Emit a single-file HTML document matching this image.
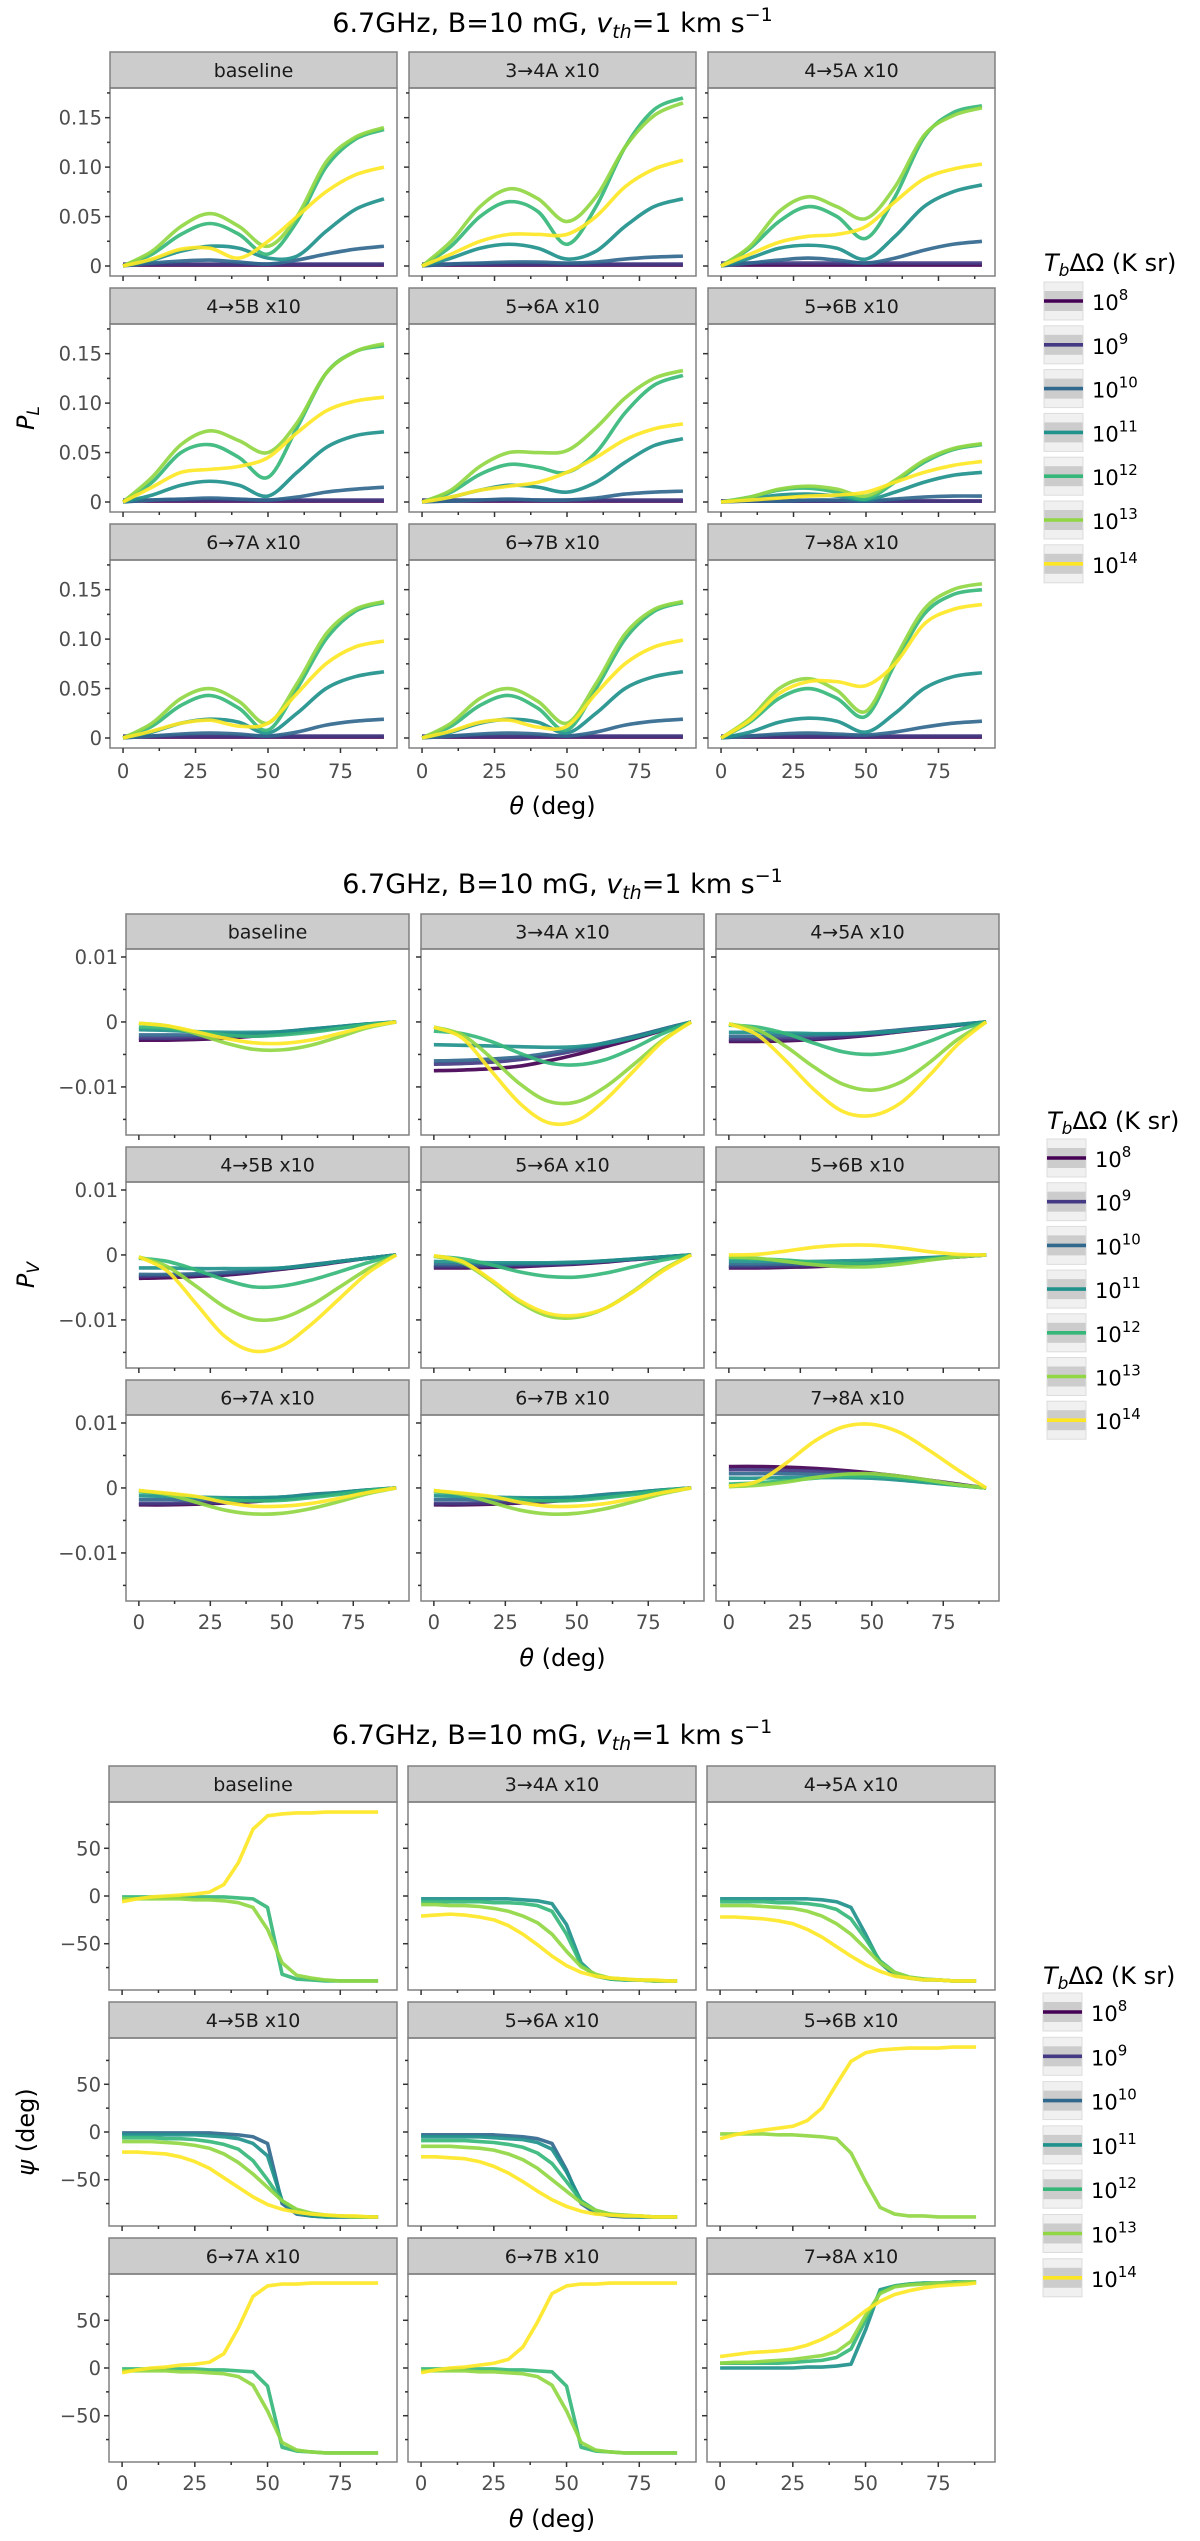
<!DOCTYPE html>
<html><head><meta charset="utf-8">
<style>
html,body{margin:0;padding:0;background:#fff;}
svg{display:block;font-family:"DejaVu Sans","Liberation Sans",sans-serif;}
</style></head>
<body>
<svg id="chart" width="1200" height="2541" viewBox="0 0 1200 2541" xmlns="http://www.w3.org/2000/svg"></svg>
<script>
const colors = ['#440154','#443983','#31688e','#21918c','#35b779','#90d743','#fde725'];
const legendExponents = ['8','9','10','11','12','13','14'];
const panelNames = ['baseline','3→4A x10','4→5A x10','4→5B x10','5→6A x10','5→6B x10','6→7A x10','6→7B x10','7→8A x10'];
const thetaPL = [0,10,20,30,40,50,60,70,80,90];
const thetaPV = [0,10,20,30,40,50,60,70,80,90];
const thetaPsi = [0,5,10,15,20,25,30,35,40,45,50,55,60,65,70,75,80,85,88];

/* ---- P_L data (series 1e8..1e14) ---- */
const plBaseline = [
[0.001,0.001,0.001,0.001,0.001,0.001,0.001,0.001,0.001,0.001],
[0.002,0.002,0.002,0.002,0.002,0.002,0.002,0.002,0.002,0.002],
[0,0.003,0.005,0.006,0.004,0.002,0.006,0.012,0.017,0.020],
[0,0.006,0.015,0.020,0.018,0.008,0.010,0.035,0.057,0.068],
[0,0.012,0.032,0.043,0.032,0.012,0.045,0.100,0.128,0.138],
[0,0.015,0.040,0.053,0.040,0.020,0.050,0.105,0.130,0.140],
[0,0.007,0.017,0.018,0.008,0.025,0.050,0.075,0.092,0.100]];
const pl34A = [
[0.001,0.001,0.001,0.001,0.001,0.001,0.001,0.001,0.001,0.001],
[0.002,0.002,0.002,0.002,0.002,0.002,0.002,0.002,0.002,0.002],
[0,0.002,0.003,0.004,0.004,0.003,0.004,0.007,0.009,0.010],
[0,0.008,0.018,0.022,0.018,0.007,0.015,0.040,0.060,0.068],
[0,0.020,0.050,0.065,0.055,0.022,0.060,0.120,0.158,0.170],
[0,0.025,0.060,0.078,0.068,0.045,0.070,0.120,0.152,0.165],
[0,0.012,0.025,0.032,0.032,0.032,0.050,0.080,0.098,0.107]];
const pl45A = [
[0.001,0.001,0.001,0.001,0.001,0.001,0.001,0.001,0.001,0.001],
[0.003,0.003,0.003,0.003,0.003,0.003,0.003,0.003,0.003,0.003],
[0,0.003,0.006,0.008,0.006,0.003,0.008,0.016,0.022,0.025],
[0,0.008,0.018,0.021,0.018,0.007,0.030,0.060,0.075,0.082],
[0,0.018,0.045,0.060,0.050,0.028,0.070,0.130,0.155,0.162],
[0,0.020,0.055,0.070,0.060,0.048,0.080,0.132,0.152,0.160],
[0,0.012,0.024,0.030,0.032,0.040,0.065,0.088,0.098,0.103]];
const pl45B = [
[0.001,0.001,0.001,0.001,0.001,0.001,0.001,0.001,0.001,0.001],
[0.002,0.002,0.002,0.002,0.002,0.002,0.002,0.002,0.002,0.002],
[0,0.002,0.003,0.004,0.003,0.002,0.005,0.010,0.013,0.015],
[0,0.007,0.017,0.021,0.017,0.006,0.030,0.055,0.067,0.071],
[0,0.020,0.050,0.058,0.045,0.025,0.075,0.130,0.152,0.158],
[0,0.025,0.058,0.072,0.062,0.050,0.080,0.130,0.152,0.160],
[0,0.015,0.030,0.033,0.036,0.045,0.070,0.092,0.102,0.106]];
const pl56A = [
[0.001,0.001,0.001,0.001,0.001,0.001,0.001,0.001,0.001,0.001],
[0.002,0.002,0.002,0.002,0.002,0.002,0.002,0.002,0.002,0.002],
[0,0.001,0.002,0.003,0.002,0.002,0.004,0.008,0.010,0.011],
[0,0.005,0.012,0.017,0.015,0.010,0.020,0.040,0.057,0.064],
[0,0.010,0.028,0.038,0.035,0.030,0.050,0.090,0.118,0.128],
[0,0.012,0.036,0.050,0.050,0.052,0.075,0.105,0.125,0.133],
[0,0.005,0.012,0.016,0.020,0.030,0.045,0.063,0.074,0.079]];
const pl56B = [
[0.001,0.001,0.001,0.001,0.001,0.001,0.001,0.001,0.001,0.001],
[0.001,0.001,0.001,0.001,0.001,0.001,0.001,0.001,0.001,0.001],
[0,0.001,0.001,0.002,0.002,0.001,0.003,0.005,0.006,0.006],
[0,0.003,0.007,0.008,0.006,0.002,0.010,0.020,0.027,0.030],
[0,0.005,0.012,0.014,0.010,0.003,0.020,0.040,0.053,0.058],
[0,0.005,0.013,0.016,0.013,0.006,0.022,0.042,0.054,0.059],
[0,0.002,0.004,0.006,0.007,0.010,0.020,0.030,0.037,0.041]];
const pl67A = [
[0.001,0.001,0.001,0.001,0.001,0.001,0.001,0.001,0.001,0.001],
[0.002,0.002,0.002,0.002,0.002,0.002,0.002,0.002,0.002,0.002],
[0,0.002,0.004,0.005,0.004,0.002,0.006,0.013,0.017,0.019],
[0,0.006,0.015,0.019,0.016,0.005,0.025,0.050,0.062,0.067],
[0,0.012,0.033,0.043,0.030,0.008,0.050,0.100,0.128,0.137],
[0,0.015,0.040,0.050,0.037,0.015,0.055,0.105,0.130,0.138],
[0,0.007,0.015,0.018,0.012,0.015,0.045,0.075,0.092,0.098]];
const pl67B = [
[0.001,0.001,0.001,0.001,0.001,0.001,0.001,0.001,0.001,0.001],
[0.002,0.002,0.002,0.002,0.002,0.002,0.002,0.002,0.002,0.002],
[0,0.002,0.004,0.005,0.004,0.002,0.006,0.013,0.017,0.019],
[0,0.006,0.015,0.019,0.016,0.005,0.025,0.050,0.062,0.067],
[0,0.012,0.033,0.043,0.030,0.008,0.050,0.100,0.128,0.137],
[0,0.015,0.040,0.050,0.037,0.015,0.055,0.105,0.130,0.138],
[0,0.007,0.016,0.018,0.011,0.012,0.045,0.075,0.092,0.099]];
const pl78A = [
[0.001,0.001,0.001,0.001,0.001,0.001,0.001,0.001,0.001,0.001],
[0.002,0.002,0.002,0.002,0.002,0.002,0.002,0.002,0.002,0.002],
[0,0.002,0.004,0.005,0.004,0.003,0.006,0.011,0.015,0.017],
[0,0.006,0.016,0.020,0.017,0.006,0.025,0.050,0.062,0.066],
[0,0.016,0.040,0.050,0.040,0.022,0.075,0.125,0.145,0.150],
[0,0.020,0.050,0.060,0.048,0.027,0.080,0.130,0.150,0.156],
[0,0.018,0.045,0.057,0.057,0.053,0.075,0.115,0.130,0.135]];

/* ---- P_V data, in units of 1e-3 ---- */
const pvScale = 0.001;
const pvBaseline = [
[-2.8,-2.8,-2.7,-2.5,-2.2,-1.8,-1.3,-0.9,-0.4,0],
[-2.5,-2.5,-2.4,-2.3,-2.0,-1.7,-1.2,-0.8,-0.4,0],
[-2.0,-2.0,-2.0,-1.9,-1.8,-1.5,-1.1,-0.7,-0.3,0],
[-1.2,-1.3,-1.5,-1.6,-1.6,-1.5,-1.1,-0.7,-0.3,0],
[-0.8,-1.0,-1.5,-2.0,-2.2,-2.0,-1.6,-1.0,-0.4,0],
[-0.2,-0.6,-1.8,-3.2,-4.2,-4.3,-3.6,-2.3,-0.9,0],
[-0.2,-0.6,-1.5,-2.5,-3.2,-3.3,-2.8,-1.8,-0.7,0]];
const pv34A = [
[-7.5,-7.4,-7.2,-6.8,-6.0,-5.0,-3.8,-2.6,-1.3,0],
[-6.5,-6.4,-6.2,-5.8,-5.2,-4.4,-3.4,-2.3,-1.1,0],
[-6.0,-5.9,-5.7,-5.4,-4.8,-4.1,-3.2,-2.2,-1.1,0],
[-3.5,-3.6,-3.7,-3.8,-3.9,-3.8,-3.3,-2.4,-1.2,0],
[-1.4,-1.8,-3.0,-4.8,-6.3,-6.6,-5.8,-4.0,-1.8,0],
[-0.8,-2.0,-5.5,-9.5,-12.2,-12.3,-10.0,-6.5,-2.8,0],
[-0.8,-2.5,-7.5,-12.5,-15.5,-15.2,-12.0,-7.5,-3.0,0]];
const pv45A = [
[-3.0,-3.0,-2.9,-2.7,-2.4,-2.0,-1.5,-1.0,-0.5,0],
[-2.7,-2.7,-2.6,-2.5,-2.2,-1.9,-1.4,-0.9,-0.5,0],
[-2.2,-2.2,-2.1,-2.0,-1.9,-1.6,-1.2,-0.8,-0.4,0],
[-1.6,-1.6,-1.7,-1.8,-1.8,-1.7,-1.4,-0.9,-0.4,0],
[-0.5,-0.8,-1.8,-3.3,-4.6,-5.0,-4.4,-3.0,-1.3,0],
[-0.3,-1.2,-3.8,-7.0,-9.6,-10.5,-9.3,-6.3,-2.7,0],
[-0.3,-2.0,-6.0,-10.5,-13.8,-14.4,-12.5,-8.3,-3.5,0]];
const pv45B = [
[-3.6,-3.5,-3.3,-3.1,-2.7,-2.2,-1.7,-1.1,-0.5,0],
[-3.3,-3.2,-3.1,-2.9,-2.6,-2.1,-1.6,-1.0,-0.5,0],
[-3.0,-3.0,-2.9,-2.7,-2.4,-2.0,-1.5,-1.0,-0.5,0],
[-2.0,-2.0,-2.1,-2.1,-2.1,-2.0,-1.6,-1.0,-0.5,0],
[-0.5,-1.0,-2.3,-3.8,-4.9,-4.8,-3.9,-2.6,-1.2,0],
[-0.3,-1.8,-4.8,-8.0,-9.9,-9.7,-7.8,-5.0,-2.2,0],
[-0.3,-2.5,-7.5,-12.5,-14.8,-14.0,-10.8,-6.8,-2.8,0]];
const pv56A = [
[-2.0,-2.0,-1.9,-1.8,-1.6,-1.4,-1.1,-0.7,-0.4,0],
[-1.8,-1.8,-1.7,-1.6,-1.5,-1.3,-1.0,-0.7,-0.3,0],
[-1.5,-1.5,-1.5,-1.4,-1.3,-1.2,-0.9,-0.6,-0.3,0],
[-1.0,-1.1,-1.2,-1.2,-1.2,-1.1,-0.9,-0.6,-0.3,0],
[-0.2,-0.6,-1.5,-2.6,-3.3,-3.4,-2.8,-1.8,-0.8,0],
[-0.2,-1.2,-4.0,-7.3,-9.4,-9.6,-8.2,-5.5,-2.3,0],
[-0.1,-1.0,-3.8,-7.0,-9.0,-9.3,-8.2,-5.6,-2.5,0]];
const pv56B = [
[-2.0,-2.0,-1.9,-1.8,-1.6,-1.3,-1.0,-0.6,-0.3,0],
[-1.8,-1.8,-1.7,-1.6,-1.4,-1.2,-0.9,-0.6,-0.3,0],
[-1.5,-1.5,-1.4,-1.4,-1.3,-1.1,-0.8,-0.5,-0.2,0],
[-1.0,-1.0,-1.0,-1.0,-0.9,-0.8,-0.6,-0.4,-0.2,0],
[-0.5,-0.6,-0.8,-1.1,-1.3,-1.3,-1.0,-0.6,-0.2,0],
[-0.3,-0.5,-1.0,-1.5,-1.8,-1.8,-1.4,-0.8,-0.3,0],
[0,0.1,0.6,1.2,1.5,1.5,1.1,0.5,0.1,0]];
const pv67A = [
[-2.6,-2.6,-2.5,-2.3,-2.1,-1.7,-1.3,-0.8,-0.4,0],
[-2.4,-2.4,-2.3,-2.2,-1.9,-1.6,-1.2,-0.8,-0.4,0],
[-1.8,-1.8,-1.8,-1.7,-1.6,-1.4,-1.0,-0.7,-0.3,0],
[-1.2,-1.3,-1.4,-1.5,-1.5,-1.4,-1.1,-0.7,-0.3,0],
[-0.6,-0.9,-1.4,-1.8,-2.0,-1.9,-1.5,-1.0,-0.4,0],
[-0.4,-1.0,-2.2,-3.4,-4.0,-3.9,-3.2,-2.1,-0.9,0],
[-0.4,-0.8,-1.3,-2.2,-2.8,-2.8,-2.4,-1.6,-0.7,0]];
const pv67B = [
[-2.6,-2.6,-2.5,-2.3,-2.1,-1.7,-1.3,-0.8,-0.4,0],
[-2.4,-2.4,-2.3,-2.2,-1.9,-1.6,-1.2,-0.8,-0.4,0],
[-1.8,-1.8,-1.8,-1.7,-1.6,-1.4,-1.0,-0.7,-0.3,0],
[-1.2,-1.3,-1.4,-1.5,-1.5,-1.4,-1.1,-0.7,-0.3,0],
[-0.6,-0.9,-1.4,-1.8,-2.0,-1.9,-1.5,-1.0,-0.4,0],
[-0.4,-1.0,-2.2,-3.4,-4.0,-3.9,-3.2,-2.1,-0.9,0],
[-0.4,-0.8,-1.3,-2.2,-2.8,-2.8,-2.4,-1.6,-0.7,0]];
const pv78A = [
[3.3,3.3,3.2,3.0,2.7,2.3,1.8,1.2,0.6,0],
[2.8,2.8,2.7,2.6,2.4,2.0,1.6,1.1,0.5,0],
[2.2,2.2,2.2,2.1,2.0,1.8,1.4,1.0,0.5,0],
[1.5,1.5,1.6,1.6,1.6,1.5,1.2,0.8,0.4,0],
[0.6,0.8,1.1,1.5,1.8,1.8,1.5,1.0,0.4,0],
[0.2,0.4,0.9,1.6,2.1,2.2,1.8,1.2,0.5,0],
[0.3,1.0,3.8,7.2,9.4,9.8,8.5,5.8,2.8,0]];

/* ---- psi data (deg); null = series not shown ---- */
const psiBaseline = [null,null,null,null,
[-1,-1,-1,-1,-1,-1,-1,-1,-2,-3,-12,-82,-87,-88,-89,-89,-89,-89,-89],
[-3,-3,-3,-3,-3,-4,-4,-5,-7,-12,-35,-70,-83,-86,-88,-89,-89,-89,-89],
[-6,-3,-1,0,1,2,4,12,35,70,84,86,87,87,88,88,88,88,88]];
const psi34A = [null,null,null,
[-3,-3,-3,-3,-3,-3,-3,-4,-5,-8,-30,-70,-84,-87,-88,-88,-89,-89,-89],
[-6,-6,-6,-6,-6,-7,-7,-8,-10,-16,-40,-72,-84,-87,-88,-88,-89,-89,-89],
[-9,-9,-10,-10,-11,-13,-16,-21,-28,-40,-58,-74,-82,-86,-87,-88,-89,-89,-89],
[-21,-20,-19,-20,-22,-25,-31,-40,-51,-63,-73,-80,-84,-86,-87,-88,-88,-89,-89]];
const psi45A = [null,null,null,
[-3,-3,-3,-3,-3,-3,-3,-4,-6,-12,-40,-70,-83,-86,-88,-88,-89,-89,-89],
[-6,-6,-6,-6,-7,-7,-8,-10,-14,-24,-45,-68,-80,-85,-87,-88,-89,-89,-89],
[-10,-10,-10,-11,-12,-13,-16,-21,-29,-40,-55,-70,-80,-85,-87,-88,-89,-89,-89],
[-22,-22,-23,-24,-26,-29,-35,-43,-53,-63,-72,-79,-84,-86,-88,-88,-89,-89,-89]];
const psi45B = [null,null,
[-1,-1,-1,-1,-1,-1,-1,-2,-3,-5,-12,-75,-86,-88,-89,-89,-89,-89,-89],
[-3,-3,-3,-3,-3,-3,-4,-5,-7,-12,-25,-72,-85,-88,-89,-89,-89,-89,-89],
[-6,-6,-6,-7,-7,-8,-10,-13,-18,-30,-50,-72,-82,-86,-88,-88,-89,-89,-89],
[-10,-10,-10,-11,-12,-14,-17,-23,-32,-44,-58,-72,-81,-85,-87,-88,-89,-89,-89],
[-21,-21,-22,-23,-26,-31,-38,-48,-58,-68,-76,-81,-84,-86,-87,-88,-88,-89,-89]];
const psi56A = [null,null,
[-3,-3,-3,-3,-3,-3,-4,-5,-7,-12,-40,-75,-85,-88,-89,-89,-89,-89,-89],
[-5,-5,-5,-5,-5,-6,-7,-8,-11,-18,-42,-72,-84,-87,-88,-89,-89,-89,-89],
[-9,-9,-9,-9,-10,-11,-13,-16,-22,-33,-52,-72,-82,-86,-88,-88,-89,-89,-89],
[-15,-15,-15,-16,-17,-19,-23,-29,-38,-50,-62,-74,-82,-86,-87,-88,-89,-89,-89],
[-26,-26,-27,-28,-31,-36,-43,-52,-62,-71,-78,-83,-86,-87,-88,-88,-89,-89,-89]];
const psi56B = [null,null,null,null,null,
[-2,-2,-2,-2,-3,-3,-4,-5,-7,-22,-52,-79,-86,-88,-88,-89,-89,-89,-89],
[-7,-3,0,2,4,6,12,25,50,74,83,86,87,88,88,88,89,89,89]];
const psi67A = [null,null,null,null,
[-1,-1,-1,-1,-1,-1,-2,-2,-3,-4,-19,-83,-87,-88,-89,-89,-89,-89,-89],
[-3,-3,-3,-3,-4,-4,-5,-6,-9,-18,-45,-78,-86,-88,-89,-89,-89,-89,-89],
[-5,-2,0,1,3,4,6,15,42,75,86,88,88,89,89,89,89,89,89]];
const psi67B = [null,null,null,null,
[-1,-1,-1,-1,-1,-1,-2,-2,-3,-4,-19,-83,-87,-88,-89,-89,-89,-89,-89],
[-3,-3,-3,-3,-4,-4,-5,-6,-9,-18,-45,-78,-86,-88,-89,-89,-89,-89,-89],
[-5,-2,0,1,3,5,9,22,48,78,86,88,88,89,89,89,89,89,89]];
const psi78A = [null,null,null,
[0,0,0,0,0,0,1,1,2,4,40,82,86,88,89,89,90,90,90],
[5,5,5,5,5,6,7,8,11,20,50,80,86,88,89,89,90,90,90],
[5,6,6,7,8,9,11,13,17,28,55,78,85,87,88,89,89,90,90],
[12,14,16,17,18,20,24,30,38,48,60,70,77,81,84,86,87,88,89]];

const plTicks = [0,0.05,0.10,0.15];
const plTickLabels = ['0','0.05','0.10','0.15'];
const pvTicks = [-0.01,0,0.01];
const pvTickLabels = ['\u22120.01','0','0.01'];
const psiTicks = [-50,0,50];
const psiTickLabels = ['\u221250','0','50'];
const xTicks = [0,25,50,75];
const xTickLabels = ['0','25','50','75'];

const NS = 'http://www.w3.org/2000/svg';
const svg = document.getElementById('chart');
function mk(tag, attrs, parent, txt){
  const e = document.createElementNS(NS, tag);
  for (const k in attrs) e.setAttribute(k, attrs[k]);
  if (txt !== undefined) e.textContent = txt;
  (parent || svg).appendChild(e);
  return e;
}
function smoothPath(pts){
  let d = 'M' + pts[0][0].toFixed(2) + ',' + pts[0][1].toFixed(2);
  for (let i = 0; i < pts.length - 1; i++){
    const p0 = pts[Math.max(0,i-1)], p1 = pts[i], p2 = pts[i+1], p3 = pts[Math.min(pts.length-1,i+2)];
    const c1x = p1[0] + (p2[0]-p0[0])/6, c1y = p1[1] + (p2[1]-p0[1])/6;
    const c2x = p2[0] - (p3[0]-p1[0])/6, c2y = p2[1] - (p3[1]-p1[1])/6;
    d += 'C' + c1x.toFixed(2)+','+c1y.toFixed(2)+' '+c2x.toFixed(2)+','+c2y.toFixed(2)+' '+p2[0].toFixed(2)+','+p2[1].toFixed(2);
  }
  return d;
}
function linePath(pts){
  return pts.map((p,i)=>(i?'L':'M')+p[0].toFixed(2)+','+p[1].toFixed(2)).join('');
}

const figs = [
 {key:'pl', panels:[plBaseline,pl34A,pl45A,pl45B,pl56A,pl56B,pl67A,pl67B,pl78A], theta:thetaPL, scale:1, smooth:true,
  colX:[110,409,708], W:287, rowTop:[52,288,524], S:36, H:188, yMin:-0.0101, yMax:0.18,
  ticks:plTicks, tickLabels:plTickLabels, minor:[0.025,0.075,0.125,0.175], ylab:'P', ysub:'L', ylabX:26,
  titleY:32, xlabY:778, xtitleY:814, legX:1044, legTitleY:271, keysTop:282, pitch:43.8},
 {key:'pv', panels:[pvBaseline,pv34A,pv45A,pv45B,pv56A,pv56B,pv67A,pv67B,pv78A], theta:thetaPV, scale:pvScale, smooth:true,
  colX:[126,421,716], W:283, rowTop:[914,1147,1380], S:35, H:186, yMin:-0.0174, yMax:0.01123,
  ticks:pvTicks, tickLabels:pvTickLabels, minor:[-0.015,-0.005,0.005], ylab:'P', ysub:'V', ylabX:26,
  titleY:893, xlabY:1629, xtitleY:1666, legX:1047, legTitleY:1129, keysTop:1139, pitch:43.7},
 {key:'psi', panels:[psiBaseline,psi34A,psi45A,psi45B,psi56A,psi56B,psi67A,psi67B,psi78A], theta:thetaPsi, scale:1, smooth:false,
  colX:[109,408,707], W:288, rowTop:[1766,2002,2238], S:36, H:188, yMin:-98.5, yMax:98.5,
  ticks:psiTicks, tickLabels:psiTickLabels, minor:[-75,-25,25,75], ylab:'\u03C8 (deg)', ysub:null, ylabX:26,
  titleY:1744, xlabY:2490, xtitleY:2527, legX:1043, legTitleY:1984, keysTop:1993, pitch:44.3}
];

figs.forEach((f, fi) => {
  const g = mk('g', {});
  
  
  const midX = (f.colX[0] + f.colX[2] + f.W) / 2;
  const t = mk('text', {x: midX, y: f.titleY, 'text-anchor':'middle', 'font-size':27, fill:'#000'}, g);
  
  
  mk('tspan', {}, t, '6.7GHz, B=10 mG, ');
  mk('tspan', {'font-style':'italic'}, t, 'v');
  mk('tspan', {'font-style':'italic','font-size':19, dy:6}, t, 'th');
  mk('tspan', {dy:-6}, t, '=1 km s');
  mk('tspan', {'font-size':19, dy:-11}, t, '\u22121');

  const xs = v => (v + 4.5) / 99;
  f.panels.forEach((series, pi) => {
    const c = pi % 3, r = Math.floor(pi / 3);
    const x0 = f.colX[c], top = f.rowTop[r], py = top + f.S, W = f.W, H = f.H;
    const X = v => x0 + xs(v) * W;
    const Y = v => py + (f.yMax - v) / (f.yMax - f.yMin) * H;
    const pg = mk('g', {}, g);
    
    
    const strip = mk('rect', {x:x0, y:top, width:W, height:f.S, fill:'#cccccc', stroke:'#808080', 'stroke-width':1.5}, pg);
    
    
    const st = mk('text', {x:x0 + W/2, y:top + f.S/2 + 7, 'text-anchor':'middle', 'font-size':19, fill:'#1a1a1a'}, pg, panelNames[pi]);
    
    
    const cp = mk('clipPath', {id:'cp'+fi+'_'+pi}, pg);
    mk('rect', {x:x0, y:py, width:W, height:H}, cp);
    const lg = mk('g', {'clip-path':'url(#cp'+fi+'_'+pi+')'}, pg);
    series.forEach((vals, si) => {
      if (!vals) return;
      const pts = vals.map((v, k) => [X(f.theta[k]), Y(v * f.scale)]);
      const p = mk('path', {d: f.smooth ? smoothPath(pts) : linePath(pts), fill:'none', stroke:colors[si], 'stroke-width':3.6, 'stroke-linejoin':'round', 'stroke-opacity':0.92}, lg);
      
      
    });
    mk('rect', {x:x0, y:py, width:W, height:H, fill:'none', stroke:'#808080', 'stroke-width':1.5}, pg);
    f.ticks.forEach((tv, k) => {
      mk('line', {x1:x0-5, x2:x0, y1:Y(tv), y2:Y(tv), stroke:'#333', 'stroke-width':1.5}, pg);
      if (c === 0) {
        const tl = mk('text', {x:x0-8, y:Y(tv)+7, 'text-anchor':'end', 'font-size':19.5, fill:'#4d4d4d'}, pg, f.tickLabels[k]);
        
        
      }
    });
    f.minor.forEach(tv => mk('line', {x1:x0-3, x2:x0, y1:Y(tv), y2:Y(tv), stroke:'#333', 'stroke-width':1.5}, pg));
    const by = py + H;
    xTicks.forEach((tv, k) => {
      mk('line', {x1:X(tv), x2:X(tv), y1:by, y2:by+5, stroke:'#333', 'stroke-width':1.5}, pg);
      mk('line', {x1:X(tv+12.5), x2:X(tv+12.5), y1:by, y2:by+3, stroke:'#333', 'stroke-width':1.5}, pg);
      if (r === 2) {
        const tl = mk('text', {x:X(tv), y:f.xlabY, 'text-anchor':'middle', 'font-size':19.5, fill:'#4d4d4d'}, pg, xTickLabels[k]);
        
        
      }
    });
  });
  const xt = mk('text', {x:midX, y:f.xtitleY, 'text-anchor':'middle', 'font-size':24, fill:'#000'}, g);
  
  
  mk('tspan', {'font-style':'italic'}, xt, '\u03B8');
  mk('tspan', {}, xt, ' (deg)');
  const cy = f.rowTop[1] + f.S + f.H/2;
  const yt = mk('text', {x:0, y:0, 'text-anchor':'middle', 'font-size':24, fill:'#000', transform:'translate(' + (f.ylabX+8) + ',' + cy + ') rotate(-90)'}, g);
  
  
  if (f.ysub) {
    mk('tspan', {'font-style':'italic'}, yt, f.ylab);
    mk('tspan', {'font-style':'italic', 'font-size':17, dy:5}, yt, f.ysub);
  } else {
    mk('tspan', {'font-style':'italic'}, yt, '\u03C8');
    mk('tspan', {}, yt, ' (deg)');
  }
  const leg = mk('g', {}, g);
  
  
  const ltt = mk('text', {x:f.legX, y:f.legTitleY, 'font-size':24, fill:'#000'}, leg);
  
  
  mk('tspan', {'font-style':'italic'}, ltt, 'T');
  mk('tspan', {'font-style':'italic','font-size':17, dy:5}, ltt, 'b');
  mk('tspan', {dy:-5}, ltt, '\u0394\u03A9 (K sr)');
  colors.forEach((col, i) => {
    const ty = f.keysTop + i * f.pitch;
    const e = mk('g', {}, leg);
    
    
    mk('rect', {x:f.legX, y:ty, width:39, height:38, fill:'#f0f0f0', stroke:'#dcdcdc', 'stroke-width':1}, e);
    mk('rect', {x:f.legX+0.5, y:ty+9, width:38, height:20, fill:'#cccccc'}, e);
    mk('line', {x1:f.legX, x2:f.legX+39, y1:ty+19, y2:ty+19, stroke:col, 'stroke-width':3.6}, e);
    const lt = mk('text', {x:f.legX+48, y:ty+28, 'font-size':21, fill:'#000'}, e);
    mk('tspan', {}, lt, '10');
    mk('tspan', {'font-size':15, dy:-10}, lt, legendExponents[i]);
  });
});
</script>
</body></html>
